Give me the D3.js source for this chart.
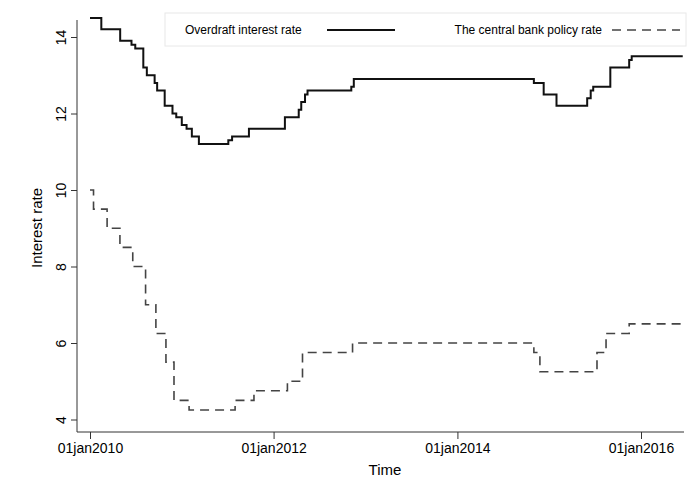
<!DOCTYPE html>
<html><head><meta charset="utf-8">
<script src="https://cdn.jsdelivr.net/npm/d3@7"></script>
<style>body{margin:0;background:#fff}text{font-family:"Liberation Sans",Arial,sans-serif}</style>
</head><body><svg id="chart" width="700" height="497"></svg>
<script>
// step dates (change points) and values
let overdraftDates = ['2010-01-01','2010-02-15','2010-05-01','2010-06-15','2010-06-30','2010-08-01','2010-08-15','2010-09-15','2010-09-25','2010-10-25','2010-11-25','2010-12-10','2011-01-01','2011-01-20','2011-02-10','2011-03-10','2011-07-05','2011-07-20','2011-09-25','2012-02-15','2012-04-10','2012-04-20','2012-05-05','2012-05-15','2012-11-05','2012-11-15','2014-11-01','2014-12-10','2015-01-30','2015-06-01','2015-06-15','2015-06-25','2015-09-01','2015-11-15','2015-11-25']
let overdraftValues = [14.5,14.2,13.9,13.8,13.7,13.2,13.0,12.8,12.6,12.2,12.0,11.9,11.7,11.6,11.4,11.2,11.3,11.4,11.6,11.9,12.1,12.3,12.5,12.6,12.7,12.9,12.8,12.5,12.2,12.4,12.6,12.7,13.2,13.4,13.5]
let policyDates = ['2010-01-01','2010-01-15','2010-03-10','2010-04-30','2010-06-20','2010-08-10','2010-09-20','2010-10-30','2010-12-01','2011-01-30','2011-08-01','2011-10-15','2012-02-25','2012-04-25','2012-11-10','2014-11-01','2014-11-25','2015-07-10','2015-08-15','2015-11-15']
let policyValues = [10,9.5,9.0,8.5,8.0,7.0,6.25,5.5,4.5,4.25,4.5,4.75,5.0,5.75,6.0,5.75,5.25,5.75,6.25,6.5]
let endDate = '2016-06-15'
let yTicks = [4,6,8,10,12,14]
let xTicks = ['2010-01-01','2012-01-01','2014-01-01','2016-01-01']
let seriesNames = ['Overdraft interest rate','The central bank policy rate']

let parse = d3.timeParse('%Y-%m-%d')
let fmt = d => '01jan' + d3.timeFormat('%Y')(d)

let svg = d3.select('#chart')
let x = d3.scaleTime().domain([parse('2010-01-01'), parse('2016-01-01')]).range([90, 641])
let y = d3.scaleLinear().domain([4, 14]).range([419.5, 37])

function steps(dates, values) {
    let pts = dates.map((d, i) => [parse(d), values[i]])
    pts.push([parse(endDate), values[values.length - 1]])
    return pts
}
let line = d3.line().x(d => x(d[0])).y(d => y(d[1])).curve(d3.curveStepAfter)

// axes
let yAxis = svg.append('g').attr('transform', 'translate(77,0)')
    .call(d3.axisLeft(y).tickValues(yTicks).tickSize(6).tickPadding(4))
yAxis.select('.domain').attr('d', 'M0,20V432')
yAxis.selectAll('text').attr('font-size', 14).attr('fill', '#000')
    .attr('transform', 'rotate(-90)').attr('text-anchor', 'middle').attr('x', 0).attr('y', -11).attr('dy', '0')

let xAxis = svg.append('g').attr('transform', 'translate(0,432)')
    .call(d3.axisBottom(x).tickValues(xTicks.map(parse)).tickFormat(fmt).tickSize(7).tickPadding(4))
xAxis.select('.domain').attr('d', 'M77,0H684')
xAxis.selectAll('text').attr('font-size', 14).attr('fill', '#000')
svg.selectAll('.tick line, .domain').attr('stroke', '#333')

svg.append('text').text('Interest rate').attr('font-size', 15)
    .attr('transform', 'translate(42,228) rotate(-90)').attr('text-anchor', 'middle')
svg.append('text').text('Time').attr('font-size', 15).attr('x', 385).attr('y', 475).attr('text-anchor', 'middle')

// series
svg.append('path').datum(steps(overdraftDates, overdraftValues)).attr('d', line)
    .attr('fill', 'none').attr('stroke', '#111').attr('stroke-width', 2)
svg.append('path').datum(steps(policyDates, policyValues)).attr('d', line)
    .attr('fill', 'none').attr('stroke', '#444').attr('stroke-width', 1.6).attr('stroke-dasharray', '9,6')

// legend
let lg = svg.append('g')
lg.append('rect').attr('x', 165).attr('y', 13).attr('width', 521).attr('height', 33)
    .attr('fill', '#fff').attr('stroke', '#e8e8e8')
lg.append('text').text(seriesNames[0]).attr('x', 185).attr('y', 34).attr('font-size', 12)
lg.append('line').attr('x1', 327).attr('x2', 395).attr('y1', 30).attr('y2', 30).attr('stroke', '#111').attr('stroke-width', 2)
lg.append('text').text(seriesNames[1]).attr('x', 602).attr('y', 34).attr('font-size', 12).attr('text-anchor', 'end')
lg.append('line').attr('x1', 612).attr('x2', 680).attr('y1', 30).attr('y2', 30).attr('stroke', '#444').attr('stroke-width', 1.6).attr('stroke-dasharray', '9,6')
</script></body></html>
